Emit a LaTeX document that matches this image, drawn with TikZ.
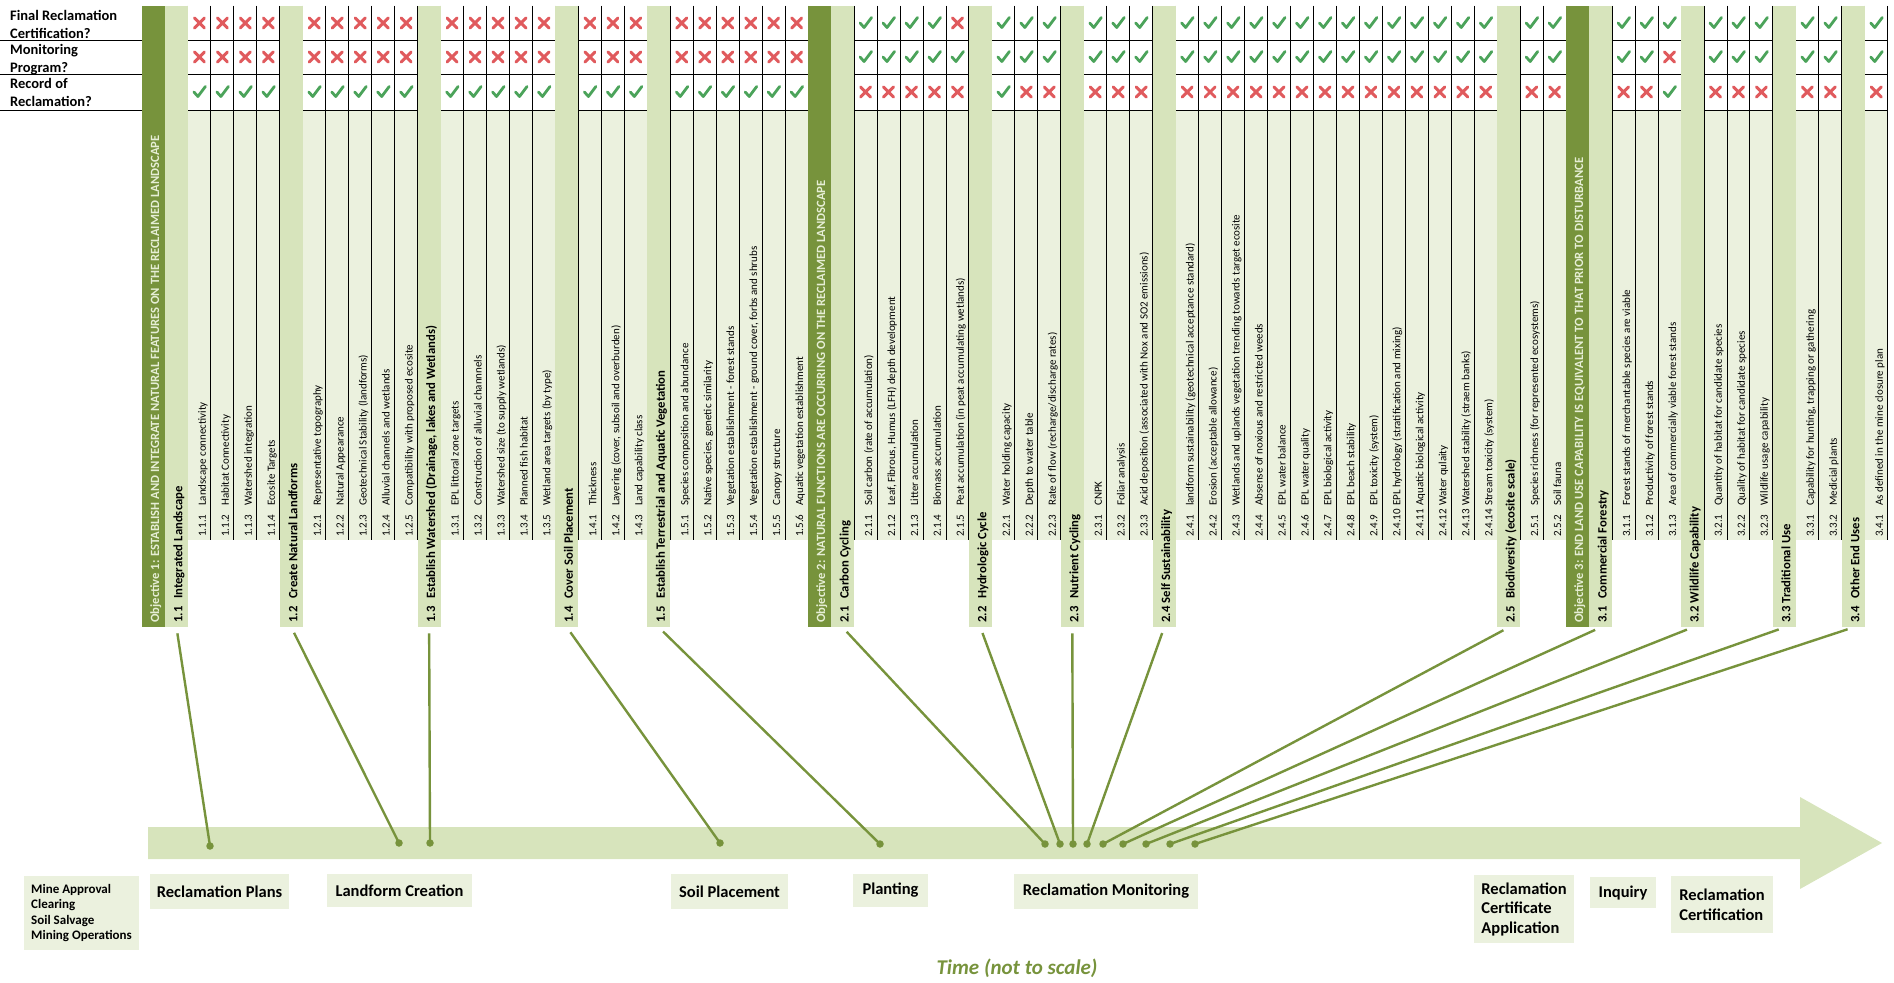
\documentclass[tikz,border=0pt]{standalone}
\usepackage{fontspec}
\setmainfont{Carlito}
\definecolor{objgreen}{HTML}{77933C}
\definecolor{hdgreen}{HTML}{D7E4BC}
\definecolor{itemgreen}{HTML}{EBF1DE}
\definecolor{objtext}{HTML}{E6EED5}
\definecolor{okgreen}{HTML}{4BA35A}
\definecolor{nored}{HTML}{E05A5D}

\begin{document}
\begin{tikzpicture}[x=1pt, y=-1pt,
    objcol/.style={rectangle, fill=objgreen, inner sep=0pt,
                   minimum width=22.97pt, minimum height=621pt, anchor=north},
    hdcol/.style={objcol, fill=hdgreen},
    objtxt/.style={rotate=90, anchor=base west, inner sep=0pt, text=objtext,
                   font=\fontsize{12.6}{14}\selectfont\bfseries},
    hdtxt/.style={objtxt, text=black, font=\fontsize{12.7}{14}\selectfont\bfseries},
    itemtxt/.style={rotate=90, anchor=base west, inner sep=0pt,
                    font=\fontsize{11}{13}\selectfont},
    rowlab/.style={anchor=west, align=left, inner sep=0pt,
                   font=\fontsize{14.5}{18.3}\selectfont\bfseries},
    gridln/.style={black, line width=0.9pt},
    stage/.style={fill=itemgreen, inner sep=0pt,
                  font=\fontsize{16.5}{19.5}\selectfont\bfseries},
    conn/.style={objgreen, line width=2.4pt, shorten <=6pt},
    tdot/.style={circle, fill=objgreen, inner sep=0pt, minimum size=7.5pt},
    okmark/.pic={\draw[okgreen, line width=2.8pt, line cap=round, line join=round]
                 (-5.5,0) -- (-1.5,4.5) -- (6,-5.5);},
    nomark/.pic={\draw[nored, line width=3pt, line cap=round]
                 (-5,-5) -- (5,5) (-5,5) -- (5,-5);},
]
\useasboundingbox (0,0) rectangle (1894,982);

% Questions on the left
\node[rowlab] (qfinal) at (10,24.8) {Final Reclamation\\Certification?};
\node[rowlab] (qmon) at (10,59.5) {Monitoring\\Program?};
\node[rowlab] (qrec) at (10,92.8) {Record of\\Reclamation?};
\draw[gridln] (0,40) -- (142,40) (0,74) -- (142,74) (0,110) -- (142,110);

% Indicator columns: col / final / monitoring / record / number / text
\foreach \col/\ra/\rb/\rc/\num/\lab in {
    2/0/0/1/1.1.1/Landscape connectivity,
    3/0/0/1/1.1.2/Habitat Connectivity,
    4/0/0/1/1.1.3/Watershed integration,
    5/0/0/1/1.1.4/Ecosite Targets,
    7/0/0/1/1.2.1/Representative topography,
    8/0/0/1/1.2.2/Natural Appearance,
    9/0/0/1/1.2.3/Geotechnical Stability (landforms),
    10/0/0/1/1.2.4/Alluvial channels and wetlands,
    11/0/0/1/1.2.5/Compatibility with proposed ecosite,
    13/0/0/1/1.3.1/EPL littoral zone targets,
    14/0/0/1/1.3.2/Construction of alluvial channnels,
    15/0/0/1/1.3.3/Watershed size (to supply wetlands),
    16/0/0/1/1.3.4/Planned fish habitat,
    17/0/0/1/1.3.5/Wetland area targets (by type),
    19/0/0/1/1.4.1/Thickness,
    20/0/0/1/1.4.2/{Layering (cover, subsoil and overburden)},
    21/0/0/1/1.4.3/Land capability class,
    23/0/0/1/1.5.1/Species composition and abundance,
    24/0/0/1/1.5.2/{Native species, genetic similarity},
    25/0/0/1/1.5.3/Vegetation establishment - forest stands,
    26/0/0/1/1.5.4/{Vegetation establishment - ground cover, forbs and shrubs},
    27/0/0/1/1.5.5/Canopy structure,
    28/0/0/1/1.5.6/Aquatic vegetation establishment,
    31/1/1/0/2.1.1/Soil carbon (rate of accumulation),
    32/1/1/0/2.1.2/{Leaf, Fibrous, Humus (LFH) depth development},
    33/1/1/0/2.1.3/Litter accumulation,
    34/1/1/0/2.1.4/Biomass accumulation,
    35/0/1/0/2.1.5/Peat accumulation (in peat accumulating wetlands),
    37/1/1/1/2.2.1/Water holding capacity,
    38/1/1/0/2.2.2/Depth to water table,
    39/1/1/0/2.2.3/{Rate of flow (recharge/discharge rates)},
    41/1/1/0/2.3.1/CNPK,
    42/1/1/0/2.3.2/Foliar analysis,
    43/1/1/0/2.3.3/Acid deposition (associated with Nox and SO2 emissions),
    45/1/1/0/2.4.1/landform sustainability (geotechnical acceptance standard),
    46/1/1/0/2.4.2/Erosion (acceptable allowance),
    47/1/1/0/2.4.3/Wetlands and uplands vegetation trending towards target ecosite,
    48/1/1/0/2.4.4/Absense of noxious and restricted weeds,
    49/1/1/0/2.4.5/EPL water balance,
    50/1/1/0/2.4.6/EPL water quality,
    51/1/1/0/2.4.7/EPL biological activity,
    52/1/1/0/2.4.8/EPL beach stability,
    53/1/1/0/2.4.9/EPL toxicity (system),
    54/1/1/0/2.4.10/EPL hydrology (stratification and mixing),
    55/1/1/0/2.4.11/Aquatic biological activity,
    56/1/1/0/2.4.12/Water qulaity,
    57/1/1/0/2.4.13/Watershed stability (straem banks),
    58/1/1/0/2.4.14/Stream toxicity (system),
    60/1/1/0/2.5.1/Species richness (for represented ecosystems),
    61/1/1/0/2.5.2/Soil fauna,
    64/1/1/0/3.1.1/Forest stands of merchantable species are viable,
    65/1/1/0/3.1.2/Productivity of forest stands,
    66/1/0/1/3.1.3/Area of commercially viable forest stands,
    68/1/1/0/3.2.1/Quantity of habitat for candidate species,
    69/1/1/0/3.2.2/Quality of habitat for candidate species,
    70/1/1/0/3.2.3/Wildlife usage capability,
    72/1/1/0/3.3.1/{Capability for hunting, trapping or gathering},
    73/1/1/0/3.3.2/Medicial plants,
    75/1/1/0/3.4.1/As defined in the mine closure plan}{
  \pgfmathsetmacro\xl{142+22.97*\col}
  \pgfmathsetmacro\xr{\xl+22.97}
  \pgfmathsetmacro\xm{\xl+11.485}
  \fill[itemgreen] (\xl,110) rectangle (\xr,540);
  \draw[gridln] (\xl,6) -- (\xl,540) (\xr,6) -- (\xr,540)
                (\xl,40) -- (\xr,40) (\xl,74) -- (\xr,74) (\xl,110) -- (\xr,110);
  \node[itemtxt] (it\col) at (\xm+6.5,537) {\makebox[31pt][l]{\num}\lab};
  \ifnum\ra=1 \pic at (\xm,23) {okmark}; \else \pic at (\xm,23) {nomark}; \fi
  \ifnum\rb=1 \pic at (\xm,57) {okmark}; \else \pic at (\xm,57) {nomark}; \fi
  \ifnum\rc=1 \pic at (\xm,92) {okmark}; \else \pic at (\xm,92) {nomark}; \fi
}

% Objectives
\node[objcol] (obj1) at (153.5,6) {};
\node[objtxt] (ot1) at (159,623) {Objective 1: ESTABLISH AND INTEGRATE NATURAL FEATURES ON THE RECLAIMED LANDSCAPE};
\node[objcol] (obj2) at (819.6,6) {};
\node[objtxt] (ot2) at (825.1,623) {Objective 2: NATURAL FUNCTIONS ARE OCCURRING ON THE RECLAIMED LANDSCAPE};
\node[objcol] (obj3) at (1577.6,6) {};
\node[objtxt] (ot3) at (1583.1,623) {Objective 3: END LAND USE CAPABILITY IS EQUIVALENT TO THAT PRIOR TO DISTURBANCE};

% Criteria headers
\foreach \col/\nm/\gap/\num/\lab in {
    1/11/24pt/1.1/Integrated Landscape,
    6/12/24pt/1.2/Create Natural Landforms,
    12/13/24pt/1.3/{Establish Watershed (Drainage, lakes and Wetlands)},
    18/14/24pt/1.4/Cover Soil Placement,
    22/15/24pt/1.5/Establish Terrestrial and Aquatic Vegetation,
    30/21/24pt/2.1/Carbon Cycling,
    36/22/24pt/2.2/Hydrologic Cycle,
    40/23/24pt/2.3/Nutrient Cycling,
    44/24/19.5pt/2.4/Self Sustainability,
    59/25/24pt/2.5/Biodiversity (ecosite scale),
    63/31/24pt/3.1/Commercial Forestry,
    67/32/19.5pt/3.2/Wildlife Capability,
    71/33/19.5pt/3.3/Traditional Use,
    74/34/24pt/3.4/Other End Uses}{
  \pgfmathsetmacro\xm{142+22.97*\col+11.485}
  \node[hdcol] (h\nm) at (\xm,6) {};
  \node[hdtxt] (ht\nm) at (\xm+6,623) {\makebox[\gap][l]{\num}\lab};
}

% Time line
\fill[hdgreen] (148,827) -- (1800,827) -- (1800,797) -- (1882,843)
               -- (1800,889) -- (1800,859) -- (148,859) -- cycle;
\foreach \nm/\x/\y in {11/210/846, 12/399/843, 13/430/843, 14/720/843, 15/880/844,
                       21/1045/844, 22/1060/844, 23/1073/844, 24/1087/844, 25/1103/844,
                       31/1123/844, 32/1146/844, 33/1170/844, 34/1195/844}
  \node[tdot] (d\nm) at (\x,\y) {};
\foreach \nm in {11,12,13,14,15,21,22,23,24,25,31,32,33,34}
  \draw[conn] (h\nm.south) -- (d\nm.center);

% Stages
\node[stage, minimum width=115pt, minimum height=74pt, align=left,
      font=\fontsize{13}{15.4}\selectfont\bfseries] (mine) at (81.5,913)
      {Mine Approval\\Clearing\\Soil Salvage\\Mining Operations};
\node[stage, minimum width=139pt, minimum height=35pt] (recplan) at (219.5,891.5) {Reclamation Plans};
\node[stage, minimum width=145pt, minimum height=33pt] (landform) at (399.5,890.5) {Landform Creation};
\node[stage, minimum width=117pt, minimum height=35pt] (soilpl) at (729.5,891.5) {Soil Placement};
\node[stage, minimum width=75pt, minimum height=33pt] (planting) at (890.5,890.5) {Planting};
\node[stage, minimum width=184pt, minimum height=35pt] (recmon) at (1106,891.5) {Reclamation Monitoring};
\node[stage, minimum width=100pt, minimum height=68pt, align=left] (certapp) at (1524,909)
      {Reclamation\\Certificate\\Application};
\node[stage, minimum width=66pt, minimum height=31pt] (inquiry) at (1623,892.5) {Inquiry};
\node[stage, minimum width=102pt, minimum height=57pt, align=left] (reccert) at (1722,904.5)
      {Reclamation\\Certification};

\node[font=\fontsize{21}{24}\selectfont\bfseries\itshape, text=objgreen] (time) at (1017,968)
      {Time (not to scale)};

\end{tikzpicture}
\end{document}
